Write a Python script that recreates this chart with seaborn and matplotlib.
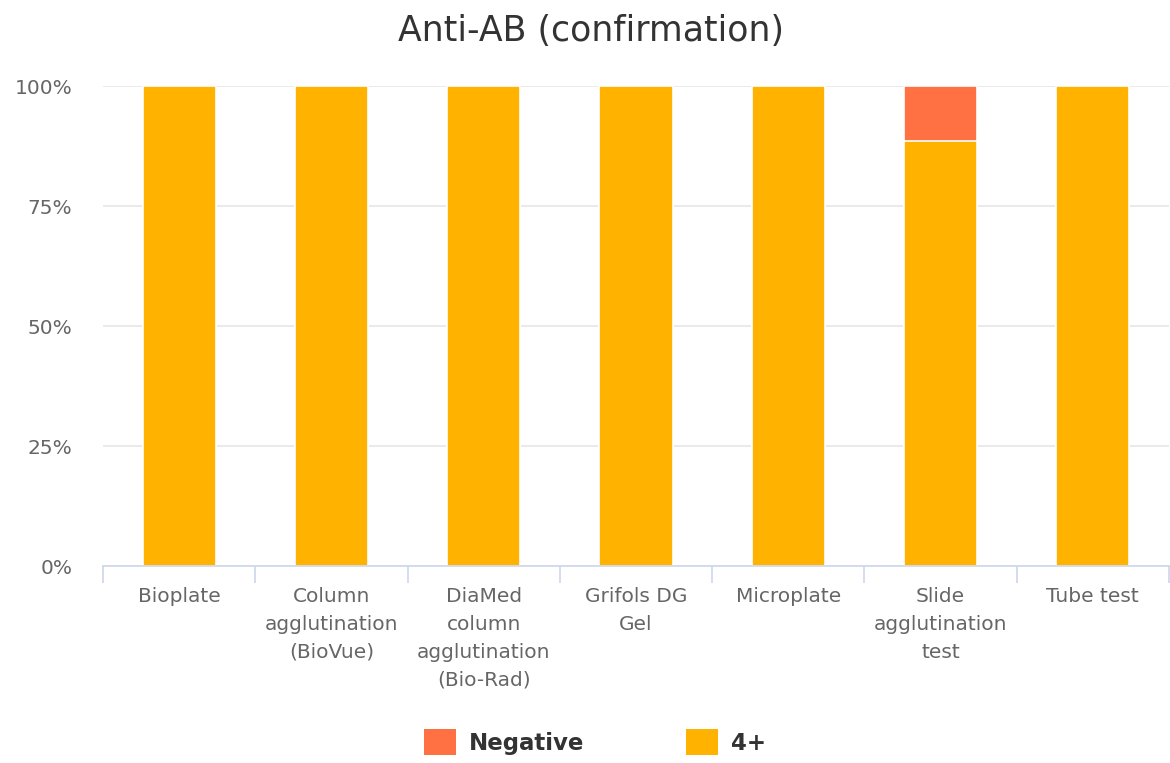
import matplotlib
matplotlib.use("Agg")
import matplotlib.pyplot as plt
import seaborn as sns
import pandas as pd
import numpy as np
from matplotlib.patches import Patch
from matplotlib.ticker import FixedLocator, PercentFormatter

categories = ["Bioplate", "Column\nagglutination\n(BioVue)", "DiaMed\ncolumn\nagglutination\n(Bio-Rad)",
              "Grifols DG\nGel", "Microplate", "Slide\nagglutination\ntest", "Tube test"]
negative = [0, 0, 0, 0, 0, 11.5, 0]
four_plus = [100, 100, 100, 100, 100, 88.5, 100]
series_names = ["Negative", "4+"]
colors = {"Negative": "#ff7043", "4+": "#ffb300"}

df = pd.DataFrame({"category": categories, "Negative": negative, "4+": four_plus})
df["total"] = df["Negative"] + df["4+"]

sns.set_theme(style="white")
plt.rcParams["font.family"] = ["DejaVu Sans"]

fig = plt.figure(figsize=(11.7, 7.63), dpi=100)
ax = fig.add_axes([103 / 1170, 1 - 566 / 763, 1066 / 1170, 480 / 763])

# stacked bars: full height in the top colour, lower segment drawn over it
sns.barplot(data=df, x="category", y="total", color=colors["Negative"], saturation=1,
            width=0.48, edgecolor="white", linewidth=1.2, ax=ax)
sns.barplot(data=df, x="category", y="4+", color=colors["4+"], saturation=1,
            width=0.48, edgecolor="white", linewidth=1.2, ax=ax)

ax.set_xlim(-0.5, len(categories) - 0.5)
ax.set_ylim(0, 100)
ax.set_yticks([0, 25, 50, 75, 100])
ax.yaxis.set_major_formatter(PercentFormatter(decimals=0))
ax.yaxis.grid(True, color="#e6e6e6", linewidth=1.2)
ax.set_axisbelow(True)

for s in ["top", "right", "left"]:
    ax.spines[s].set_visible(False)
ax.spines["bottom"].set_color("#ccd6eb")
ax.spines["bottom"].set_linewidth(1.2)

ax.tick_params(axis="y", length=0, pad=22, labelsize=14.5, labelcolor="#666666")
ax.tick_params(axis="x", which="major", length=0, pad=15, labelsize=14.5, labelcolor="#666666")
ax.xaxis.set_minor_locator(FixedLocator(np.arange(-0.5, len(categories), 1.0)))
ax.tick_params(axis="x", which="minor", bottom=True, length=12.5, width=1.2,
               color="#ccd6eb", direction="out")
for lbl in ax.get_xticklabels():
    lbl.set_verticalalignment("top")
    lbl.set_linespacing(1.6)
ax.set_xlabel("")
ax.set_ylabel("")

fig.text(0.505, 1 - 31 / 763, "Anti-AB (confirmation)", ha="center", va="center",
         fontsize=25, color="#333333")

handles = [Patch(facecolor=colors[n], edgecolor="none") for n in series_names]
leg = fig.legend(handles, series_names, loc="center", bbox_to_anchor=(0.5085, 1 - 742 / 763),
                 ncol=2, frameon=False, handlelength=1.4, handleheight=1.35, columnspacing=4.4,
                 handletextpad=0.6, prop={"weight": "bold", "size": 16.5})
for t in leg.get_texts():
    t.set_color("#333333")

fig.savefig("out.png", dpi=100, facecolor="white")
